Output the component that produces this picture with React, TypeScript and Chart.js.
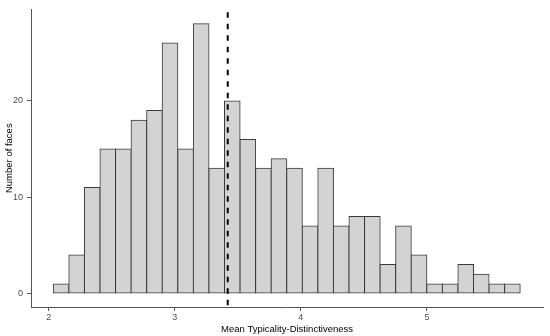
import React, { useEffect, useRef } from "react";
import { Chart, registerables } from "chart.js";

Chart.register(...registerables);

// Histogram: counts per bin, bins start at BIN_START with width BIN_WIDTH
const BIN_START = 2.037;
const BIN_WIDTH = 0.1234;
const counts = [1, 4, 11, 15, 15, 18, 19, 26, 15, 28, 13, 20, 16, 13, 14, 13, 7, 13, 7, 8, 8, 3, 7, 4, 1, 1, 3, 2, 1, 1];
const meanValue = 3.42;
const xTicks = [2, 3, 4, 5];
const yTicks = [0, 10, 20];
const X_MIN = 1.86;
const X_MAX = 5.92;
const Y_MIN = -1.4;
const Y_MAX = 29.5;

export default function App() {
  const ref = useRef<HTMLCanvasElement | null>(null);
  useEffect(() => {
    document.body.style.margin = "0";
    const ctx = ref.current!;
    const barData = counts.map((c, i) => ({ x: BIN_START + BIN_WIDTH * (i + 0.5), y: c }));
    const chart = new Chart(ctx, {
      type: "bar",
      data: {
        datasets: [
          {
            type: "line",
            data: [
              { x: meanValue, y: Y_MAX - 0.3 },
              { x: meanValue, y: Y_MIN },
            ],
            borderColor: "#000",
            borderWidth: 2,
            borderDash: [5.5, 6],
            pointRadius: 0,
            order: 0,
          } as any,
          {
            type: "bar",
            data: barData,
            backgroundColor: "#D3D3D3",
            borderColor: "#3a3a3a",
            borderWidth: 1,
            borderSkipped: false,
            inflateAmount: 0.5,
            barPercentage: 1,
            categoryPercentage: 1,
            order: 1,
          } as any,
        ],
      },
      options: {
        animation: false,
        responsive: false,
        maintainAspectRatio: false,
        layout: { padding: { top: 7, right: 7, left: 0, bottom: 0 } },
        plugins: { legend: { display: false }, tooltip: { enabled: false } },
        scales: {
          x: {
            type: "linear",
            min: X_MIN,
            max: X_MAX,
            offset: false,
            afterBuildTicks: (s: any) => {
              s.ticks = xTicks.map((v) => ({ value: v }));
            },
            afterFit: (s: any) => {
              s.height = 29;
            },
            grid: { display: true, offset: false, drawOnChartArea: false, drawTicks: true, tickLength: 4, color: "#555" },
            border: { display: true, color: "#555", width: 1 },
            ticks: {
              color: "#4D4D4D",
              font: { family: "Liberation Sans, Arial", size: 9 },
              padding: 1,
              maxRotation: 0,
            },
            title: {
              display: true,
              text: "Mean Typicality-Distinctiveness",
              color: "#000",
              font: { family: "Liberation Sans, Arial", size: 9.5 },
              padding: { top: 0, bottom: 1 },
            },
          },
          y: {
            type: "linear",
            min: Y_MIN,
            max: Y_MAX,
            afterBuildTicks: (s: any) => {
              s.ticks = yTicks.map((v) => ({ value: v }));
            },
            afterFit: (s: any) => {
              s.width = 31;
            },
            grid: { display: true, offset: false, drawOnChartArea: false, drawTicks: true, tickLength: 4, color: "#555" },
            border: { display: true, color: "#555", width: 1 },
            ticks: {
              color: "#4D4D4D",
              font: { family: "Liberation Sans, Arial", size: 9 },
              padding: 4,
            },
            title: {
              display: true,
              text: "Number of faces",
              color: "#000",
              font: { family: "Liberation Sans, Arial", size: 9.5 },
              padding: { top: 4, bottom: 0 },
            },
          },
        },
      },
    });
    return () => chart.destroy();
  }, []);
  return (
    <div style={{ position: "absolute", left: 0, top: 0, width: 550, height: 336 }}>
      <canvas ref={ref} width={550} height={336} style={{ width: 550, height: 336 }} />
    </div>
  );
}
